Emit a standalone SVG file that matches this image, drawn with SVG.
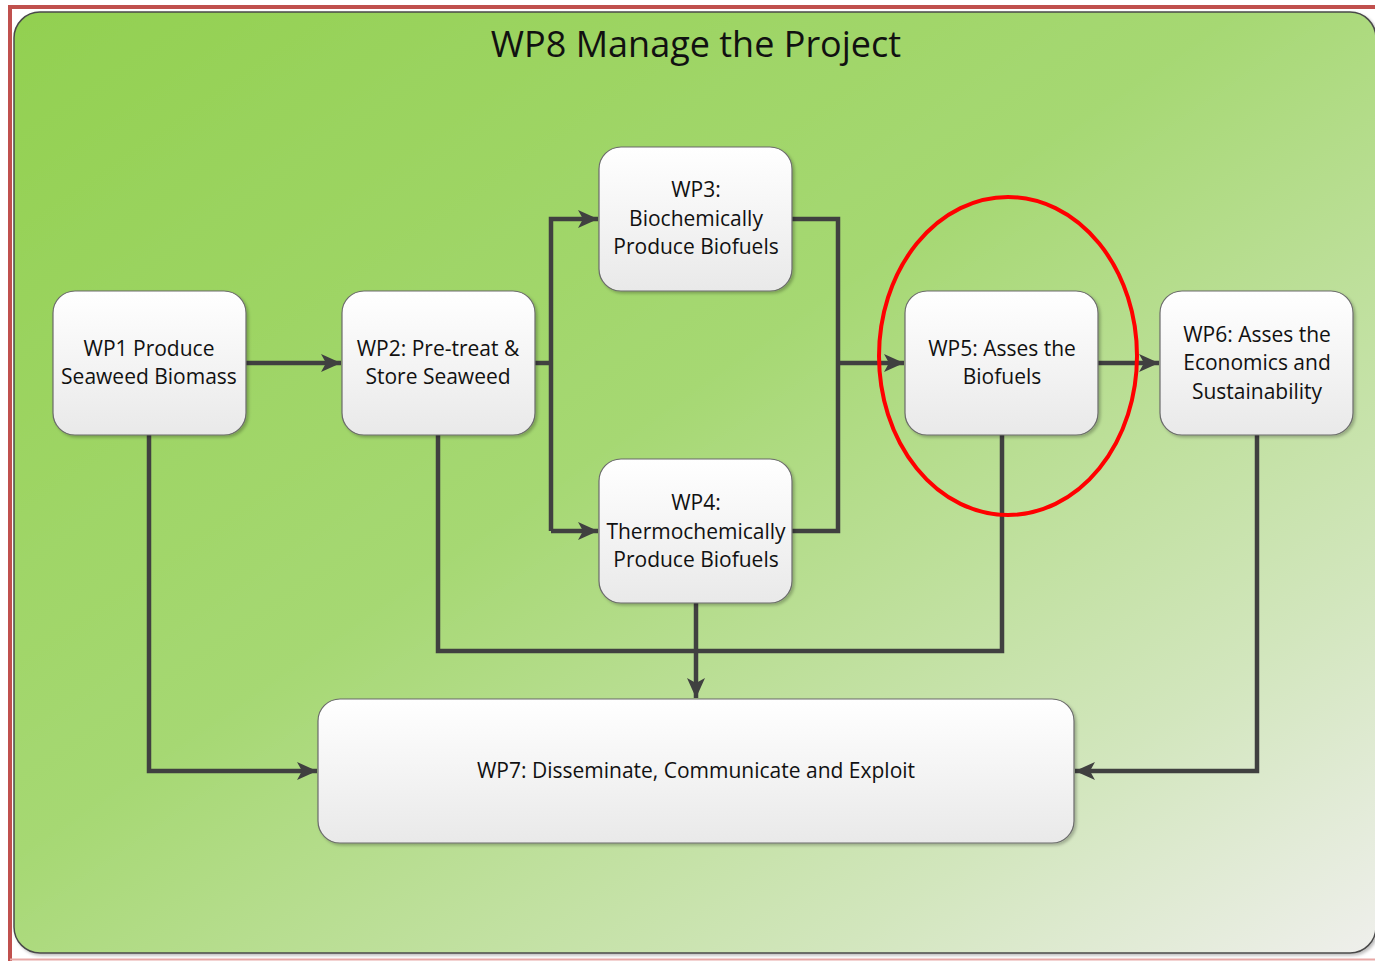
<svg xmlns="http://www.w3.org/2000/svg" width="1375" height="961" viewBox="0 0 1375 961">
<defs>
<linearGradient id="bg" x1="0" y1="0" x2="1" y2="1">
<stop offset="0" stop-color="#92d050"/>
<stop offset="0.45" stop-color="#a6d873"/>
<stop offset="0.8" stop-color="#d2e6bd"/>
<stop offset="1" stop-color="#efefec"/>
</linearGradient>
<linearGradient id="nodeg" x1="0" y1="0" x2="0" y2="1">
<stop offset="0" stop-color="#ffffff"/>
<stop offset="1" stop-color="#e9e9e9"/>
</linearGradient>
<filter id="sh" x="-10%" y="-10%" width="120%" height="120%">
<feDropShadow dx="2" dy="2" stdDeviation="1.5" flood-color="#000" flood-opacity="0.25"/>
</filter>
<marker id="arr" markerUnits="userSpaceOnUse" markerWidth="22" markerHeight="22" viewBox="0 0 22 22" refX="20" refY="11" orient="auto">
<path d="M0,2 L20,11 L0,20 L5,11 Z" fill="#404040"/>
</marker>
<style>
.node rect { fill: url(#nodeg); stroke: #6b6b6b; stroke-width: 1.2; filter: url(#sh); }
.node text { font-family: "Open Sans", "Liberation Sans", sans-serif; font-size: 21px; fill: #111; text-anchor: middle; }
.conn path { fill: none; stroke: #404040; stroke-width: 4.5; }
</style>
</defs>
<rect x="0" y="0" width="1375" height="961" fill="#ffffff"/>
<path d="M10,961 V7 H1375" fill="none" stroke="#c0504d" stroke-width="4"/>
<line x1="10" y1="959.5" x2="1375" y2="959.5" stroke="#e8a8a6" stroke-width="2"/>
<rect x="14" y="12" width="1362" height="941" rx="26" fill="url(#bg)" stroke="#4a4a4a" stroke-width="1.5" filter="url(#sh)"/>
<text x="696" y="57" font-family="Open Sans, Liberation Sans, sans-serif" font-size="36" text-anchor="middle" fill="#111">WP8 Manage the Project</text>

<g class="conn">
<path d="M246,363 H341" marker-end="url(#arr)"/>
<path d="M535,363 H551"/>
<path d="M551,531 V219 H598" marker-end="url(#arr)"/>
<path d="M551,531 H598" marker-end="url(#arr)"/>
<path d="M792,219 H838 V531 H792"/>
<path d="M838,363 H904" marker-end="url(#arr)"/>
<path d="M1098,363 H1159" marker-end="url(#arr)"/>
<path d="M149,435 V771 H317" marker-end="url(#arr)"/>
<path d="M438,435 V651 H1002 V435"/>
<path d="M696,603 V698" marker-end="url(#arr)"/>
<path d="M1257,435 V771 H1075" marker-end="url(#arr)"/>
</g>

<g id="wp1" class="node"><rect x="53" y="291" width="193" height="144" rx="22"/>
<text x="149" y="356">WP1 Produce</text><text x="149" y="384">Seaweed Biomass</text></g>
<g id="wp2" class="node"><rect x="342" y="291" width="193" height="144" rx="22"/>
<text x="438" y="356">WP2: Pre-treat &amp;</text><text x="438" y="384">Store Seaweed</text></g>
<g id="wp3" class="node"><rect x="599" y="147" width="193" height="144" rx="22"/>
<text x="696" y="197">WP3:</text><text x="696" y="226">Biochemically</text><text x="696" y="254">Produce Biofuels</text></g>
<g id="wp4" class="node"><rect x="599" y="459" width="193" height="144" rx="22"/>
<text x="696" y="510">WP4:</text><text x="696" y="539">Thermochemically</text><text x="696" y="567">Produce Biofuels</text></g>
<g id="wp5" class="node"><rect x="905" y="291" width="193" height="144" rx="22"/>
<text x="1002" y="356">WP5: Asses the</text><text x="1002" y="384">Biofuels</text></g>
<g id="wp6" class="node"><rect x="1160" y="291" width="193" height="144" rx="22"/>
<text x="1257" y="342">WP6: Asses the</text><text x="1257" y="370">Economics and</text><text x="1257" y="399">Sustainability</text></g>
<g id="wp7" class="node"><rect x="318" y="699" width="756" height="144" rx="22"/>
<text x="696" y="778">WP7: Disseminate, Communicate and Exploit</text></g>

<ellipse cx="1008" cy="356" rx="129" ry="159" fill="none" stroke="#ff0000" stroke-width="4"/>
</svg>
